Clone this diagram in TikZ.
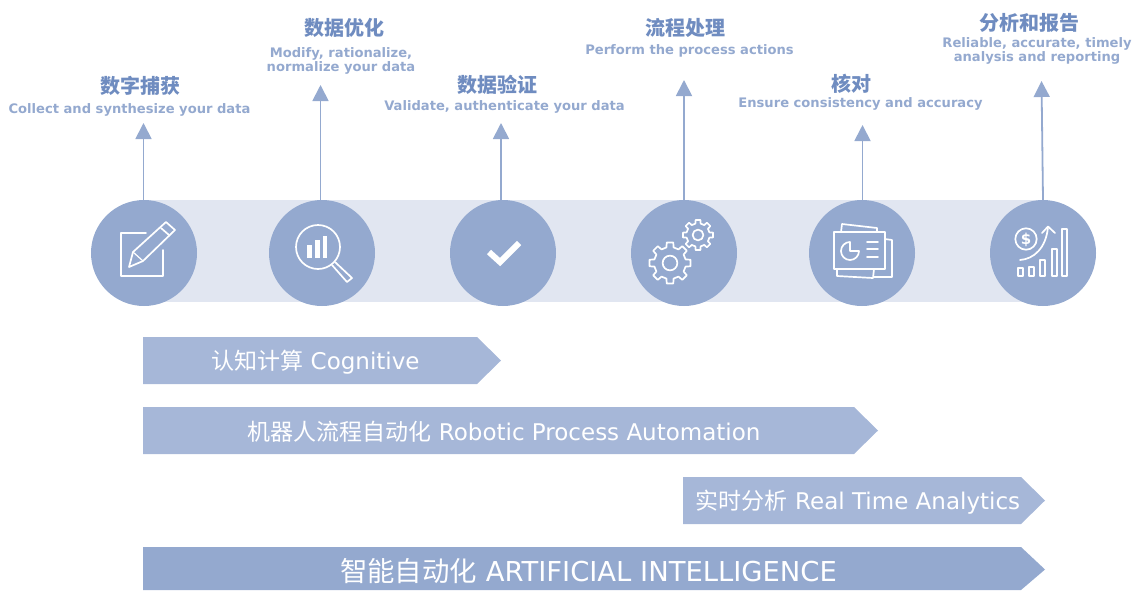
\documentclass[tikz,border=0pt]{standalone}
\usepackage{fontspec}
\setmainfont{DejaVu Sans}
\newfontfamily\cjk{Noto Sans CJK SC}
\usetikzlibrary{arrows.meta}
\definecolor{circ}{HTML}{94A9CF}
\definecolor{band}{HTML}{E1E6F1}
\definecolor{ban}{HTML}{A6B7D8}
\definecolor{ttl}{HTML}{6F8CC0}
\definecolor{sub}{HTML}{94A9CF}
\tikzset{
 stagecirc/.style={circle,fill=circ,minimum size=106pt,inner sep=0pt},
 riser/.style={draw=circ,line width=1.8pt,-{Triangle[length=16pt,width=16pt]}},
 ttlnode/.style={text=ttl,font=\bfseries\cjk\fontsize{20}{22}\selectfont,inner sep=0pt,anchor=center},
 subnode/.style={text=sub,font=\bfseries\fontsize{13.1}{14.6}\selectfont,align=center,inner sep=0pt,anchor=center},
 banlabel/.style={text=white,inner sep=0pt,anchor=center},
 ic/.style={draw=white,line width=1.7pt,line join=round,line cap=round},
}
\newcommand{\gear}[4]{% x y r teeth
 \draw[ic,shift={(#1,#2)}] ({360/#4-13}:#3)
  \foreach \k in {1,...,#4}{
   -- ({360/#4*\k-13}:#3) -- ({360/#4*\k-9}:#3*1.3) -- ({360/#4*\k+9}:#3*1.3) -- ({360/#4*\k+13}:#3)
  } -- cycle;
 \draw[ic,shift={(#1,#2)}] (0,0) circle (#3*0.46);
}
\begin{document}
\begin{tikzpicture}[x=1pt,y=-1pt]
\useasboundingbox (0,0) rectangle (1134,590);
\fill[band] (143,200) rectangle (1043,302);
\foreach \n/\x in {a/144,b/322,c/503,d/684,e/862,f/1043}{
  \node[stagecirc] (\n) at (\x,253) {};
}
\coordinate (ta) at (143.5,123);
\coordinate (tb) at (320.5,85);
\coordinate (tc) at (501,123);
\coordinate (td) at (684,80);
\coordinate (te) at (862.5,125);
\coordinate (tf) at (1041.5,81);
\draw[riser] (ta |- a.north) -- (ta);
\draw[riser] (tb |- b.north) -- (tb);
\draw[riser] (tc |- c.north) -- (tc);
\draw[riser] (td |- d.north) -- (td);
\draw[riser] (te |- e.north) -- (te);
\draw[riser] (f.north) -- (tf);
% titles
\node[ttlnode] (t1) at (140,86) {数字捕获};
\node[subnode] (s1) at (129.5,109.5) {Collect and synthesize your data};
\node[ttlnode] (t2) at (344,28) {数据优化};
\node[subnode] (s2) at (341,61) {Modify, rationalize,\\normalize your data};
\node[ttlnode] (t3) at (497,85) {数据验证};
\node[subnode] (s3) at (504.5,107) {Validate, authenticate your data};
\node[ttlnode] (t4) at (685,28) {流程处理};
\node[subnode] (s4) at (689.5,50.5) {Perform the process actions};
\node[ttlnode] (t5) at (851,83.5) {核对};
\node[subnode] (s5) at (860.5,103.5) {Ensure consistency and accuracy};
\node[ttlnode] (t6) at (1029,23) {分析和报告};
\node[subnode] (s6) at (1037,51) {Reliable, accurate, timely\\analysis and reporting};
% banners
\fill[ban] (143,337) -- (477,337) -- (501,360.5) -- (477,384) -- (143,384) -- cycle;
\node[banlabel,font=\fontsize{23}{26}\selectfont] (b1) at (315.5,362.5) {{\cjk 认知计算} Cognitive};
\fill[ban] (143,407) -- (854,407) -- (878,430.5) -- (854,454) -- (143,454) -- cycle;
\node[banlabel,font=\fontsize{23}{26}\selectfont] (b2) at (504,431.5) {{\cjk 机器人流程自动化} Robotic Process Automation};
\fill[ban] (683,477) -- (1021,477) -- (1045,500.5) -- (1021,524) -- (683,524) -- cycle;
\node[banlabel,font=\fontsize{23}{26}\selectfont] (b3) at (858,502.5) {{\cjk 实时分析} Real Time Analytics};
\fill[circ] (143,547) -- (1021,547) -- (1045,569.5) -- (1021,590) -- (143,590) -- cycle;
\node[banlabel,font=\fontsize{27.4}{30}\selectfont] (b4) at (588.5,571.5) {{\cjk 智能自动化} ARTIFICIAL INTELLIGENCE};
% icon 1: pencil
\draw[ic] (146,233) -- (121,233) -- (121,276) -- (163,276) -- (163,250);
\draw[ic] (166,222) -- (175,230) -- (143,261) -- (129,267) -- (133,252) -- cycle;
\draw[ic] (161,228) -- (169,235);
\draw[ic,line width=1.2pt] (133,252) -- (143,261);
% icon 2: magnifier
\draw[ic,line cap=butt] (318,247) circle (22);
\fill[white] (307,245) rectangle (312,258);
\fill[white] (315,240) rectangle (319.5,258);
\fill[white] (322.5,236) rectangle (327,258);
\draw[ic] (332,265) -- (347,282) -- (352,278) -- (335,262);
% icon 3: check
\draw[white,line width=6pt] (489,252) -- (500,262) -- (519,243);
% icon 4: gears
\gear{670}{263}{16}{8}
\gear{698}{235}{11.7}{8}
% icon 5: report
\draw[ic] (834,232) rectangle (885,269);
\draw[ic] (841,232) -- (842,224) -- (877,228) -- (877,232);
\draw[ic] (885,239) -- (892,240) -- (892,277) -- (874,277);
\draw[ic] (837,269) -- (837,276) -- (873,278) -- (874,269);
\draw[ic] (859,251) arc (0:270:9) -- (850,251) -- cycle;
\draw[ic] (867,242) -- (878,242) (867,249) -- (878,249) (867,257) -- (878,257);
% icon 6: chart
\draw[ic] (1026,239) circle (10.7);
\node[text=white,font=\bfseries\fontsize{15}{15}\selectfont,inner sep=0pt] (dollar) at (1026,239.5) {\$};
\draw[ic] (1020,260) .. controls (1034,259) and (1046,248) .. (1048,227);
\draw[ic] (1042,233) -- (1048,226.5) -- (1055,233);
\draw[ic] (1018,268) rectangle (1023,276);
\draw[ic] (1029,267) rectangle (1034,276);
\draw[ic] (1040,260) rectangle (1045,276);
\draw[ic] (1052,249) rectangle (1057,276);
\draw[ic] (1062,229) rectangle (1067,276);
\end{tikzpicture}
\end{document}
